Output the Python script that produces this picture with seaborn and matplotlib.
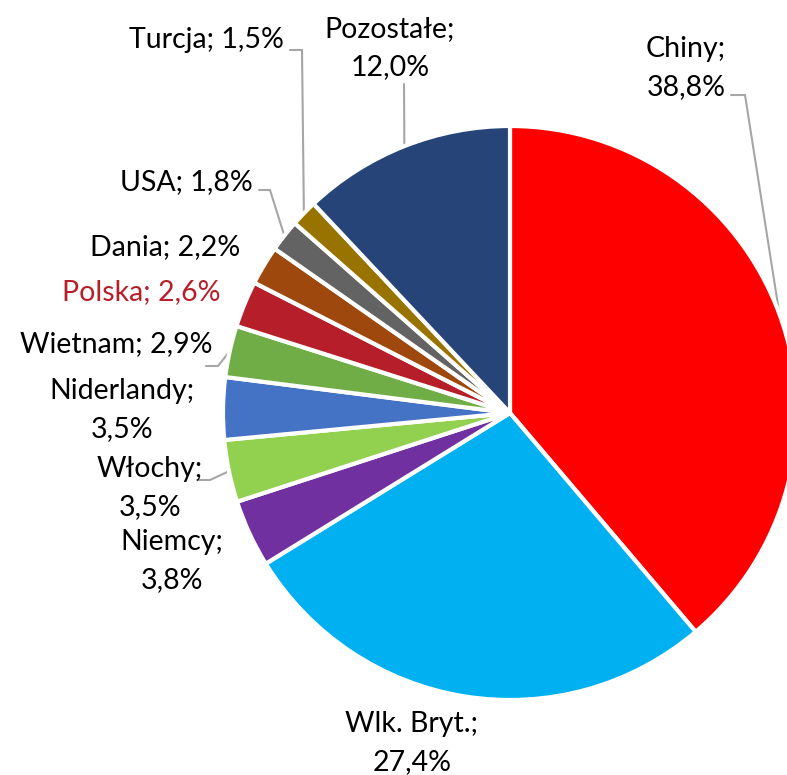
import numpy as np
import matplotlib
matplotlib.use("Agg")
import matplotlib.pyplot as plt
import seaborn as sns

sns.set_theme(style="white")
plt.rcParams['font.family'] = ['Lato', 'DejaVu Sans']

# data (clockwise from 12 o'clock)
countries = ['Chiny', 'Wlk. Bryt.', 'Niemcy', 'Włochy', 'Niderlandy', 'Wietnam',
             'Polska', 'Dania', 'USA', 'Turcja', 'Pozostałe']
shares = [38.8, 27.4, 3.8, 3.5, 3.5, 2.9, 2.6, 2.2, 1.8, 1.5, 12.0]
colors = ['#FF0000', '#00B0F0', '#7030A0', '#92D050', '#4472C4', '#70AD47',
          '#B61F2A', '#9E480E', '#636363', '#997300', '#264478']

# label text layout in pixel coords: (x, y of last baseline, ha, two lines?)
label_layout = {
    'Chiny':      (686, 95, 'center', True),
    'Wlk. Bryt.': (412, 770, 'center', True),
    'Niemcy':     (172, 588, 'center', True),
    'Włochy':     (150, 515, 'center', True),
    'Niderlandy': (122, 437, 'center', True),
    'Wietnam':    (213, 352, 'right', False),
    'Polska':     (220, 300, 'right', False),
    'Dania':      (240, 255, 'right', False),
    'USA':        (253, 190, 'right', False),
    'Turcja':     (284, 48, 'right', False),
    'Pozostałe':  (390, 75, 'center', True),
}
# leader lines: start point and elbow (end goes to wedge edge)
leaders = {
    'Chiny':     [(731, 95), (745, 95)],
    'Pozostałe': [(404, 84), (404, 84)],
    'Turcja':    [(290, 50), (302, 50)],
    'USA':       [(259, 190), (270, 190)],
    'Wietnam':   [(206, 366), (218, 366)],
    'Włochy':    [(197, 480), (210, 480)],
}

fig = plt.figure(figsize=(7.87, 7.75), dpi=100)
ax = fig.add_axes([0, 0, 1, 1])
ax.axis('off')

wedges, _ = ax.pie(shares, colors=colors, startangle=-90, counterclock=True,
                   center=(510, 413), radius=287,
                   wedgeprops=dict(edgecolor='white', linewidth=3))
ax.set_xlim(0, 787)
ax.set_ylim(775, 0)

for name, val, w in zip(countries, shares, wedges):
    x, y, ha, two = label_layout[name]
    pct = f"{val:.1f}%".replace('.', ',')
    txt = f"{name};\n{pct}" if two else f"{name}; {pct}"
    col = '#B61F2A' if name == 'Polska' else 'black'
    ax.text(x, y, txt, ha=ha, va='baseline', fontsize=20.5, color=col,
            linespacing=1.55, multialignment='center')
    if name in leaders:
        mid = np.deg2rad((w.theta1 + w.theta2) / 2)
        cx, cy = w.center
        end = (cx + w.r * np.cos(mid), cy + w.r * np.sin(mid))
        pts = leaders[name] + [end]
        ax.plot([p[0] for p in pts], [p[1] for p in pts], color='#A6A6A6', lw=1.5,
                solid_joinstyle='miter', zorder=0)

fig.savefig('out.png', dpi=100)
